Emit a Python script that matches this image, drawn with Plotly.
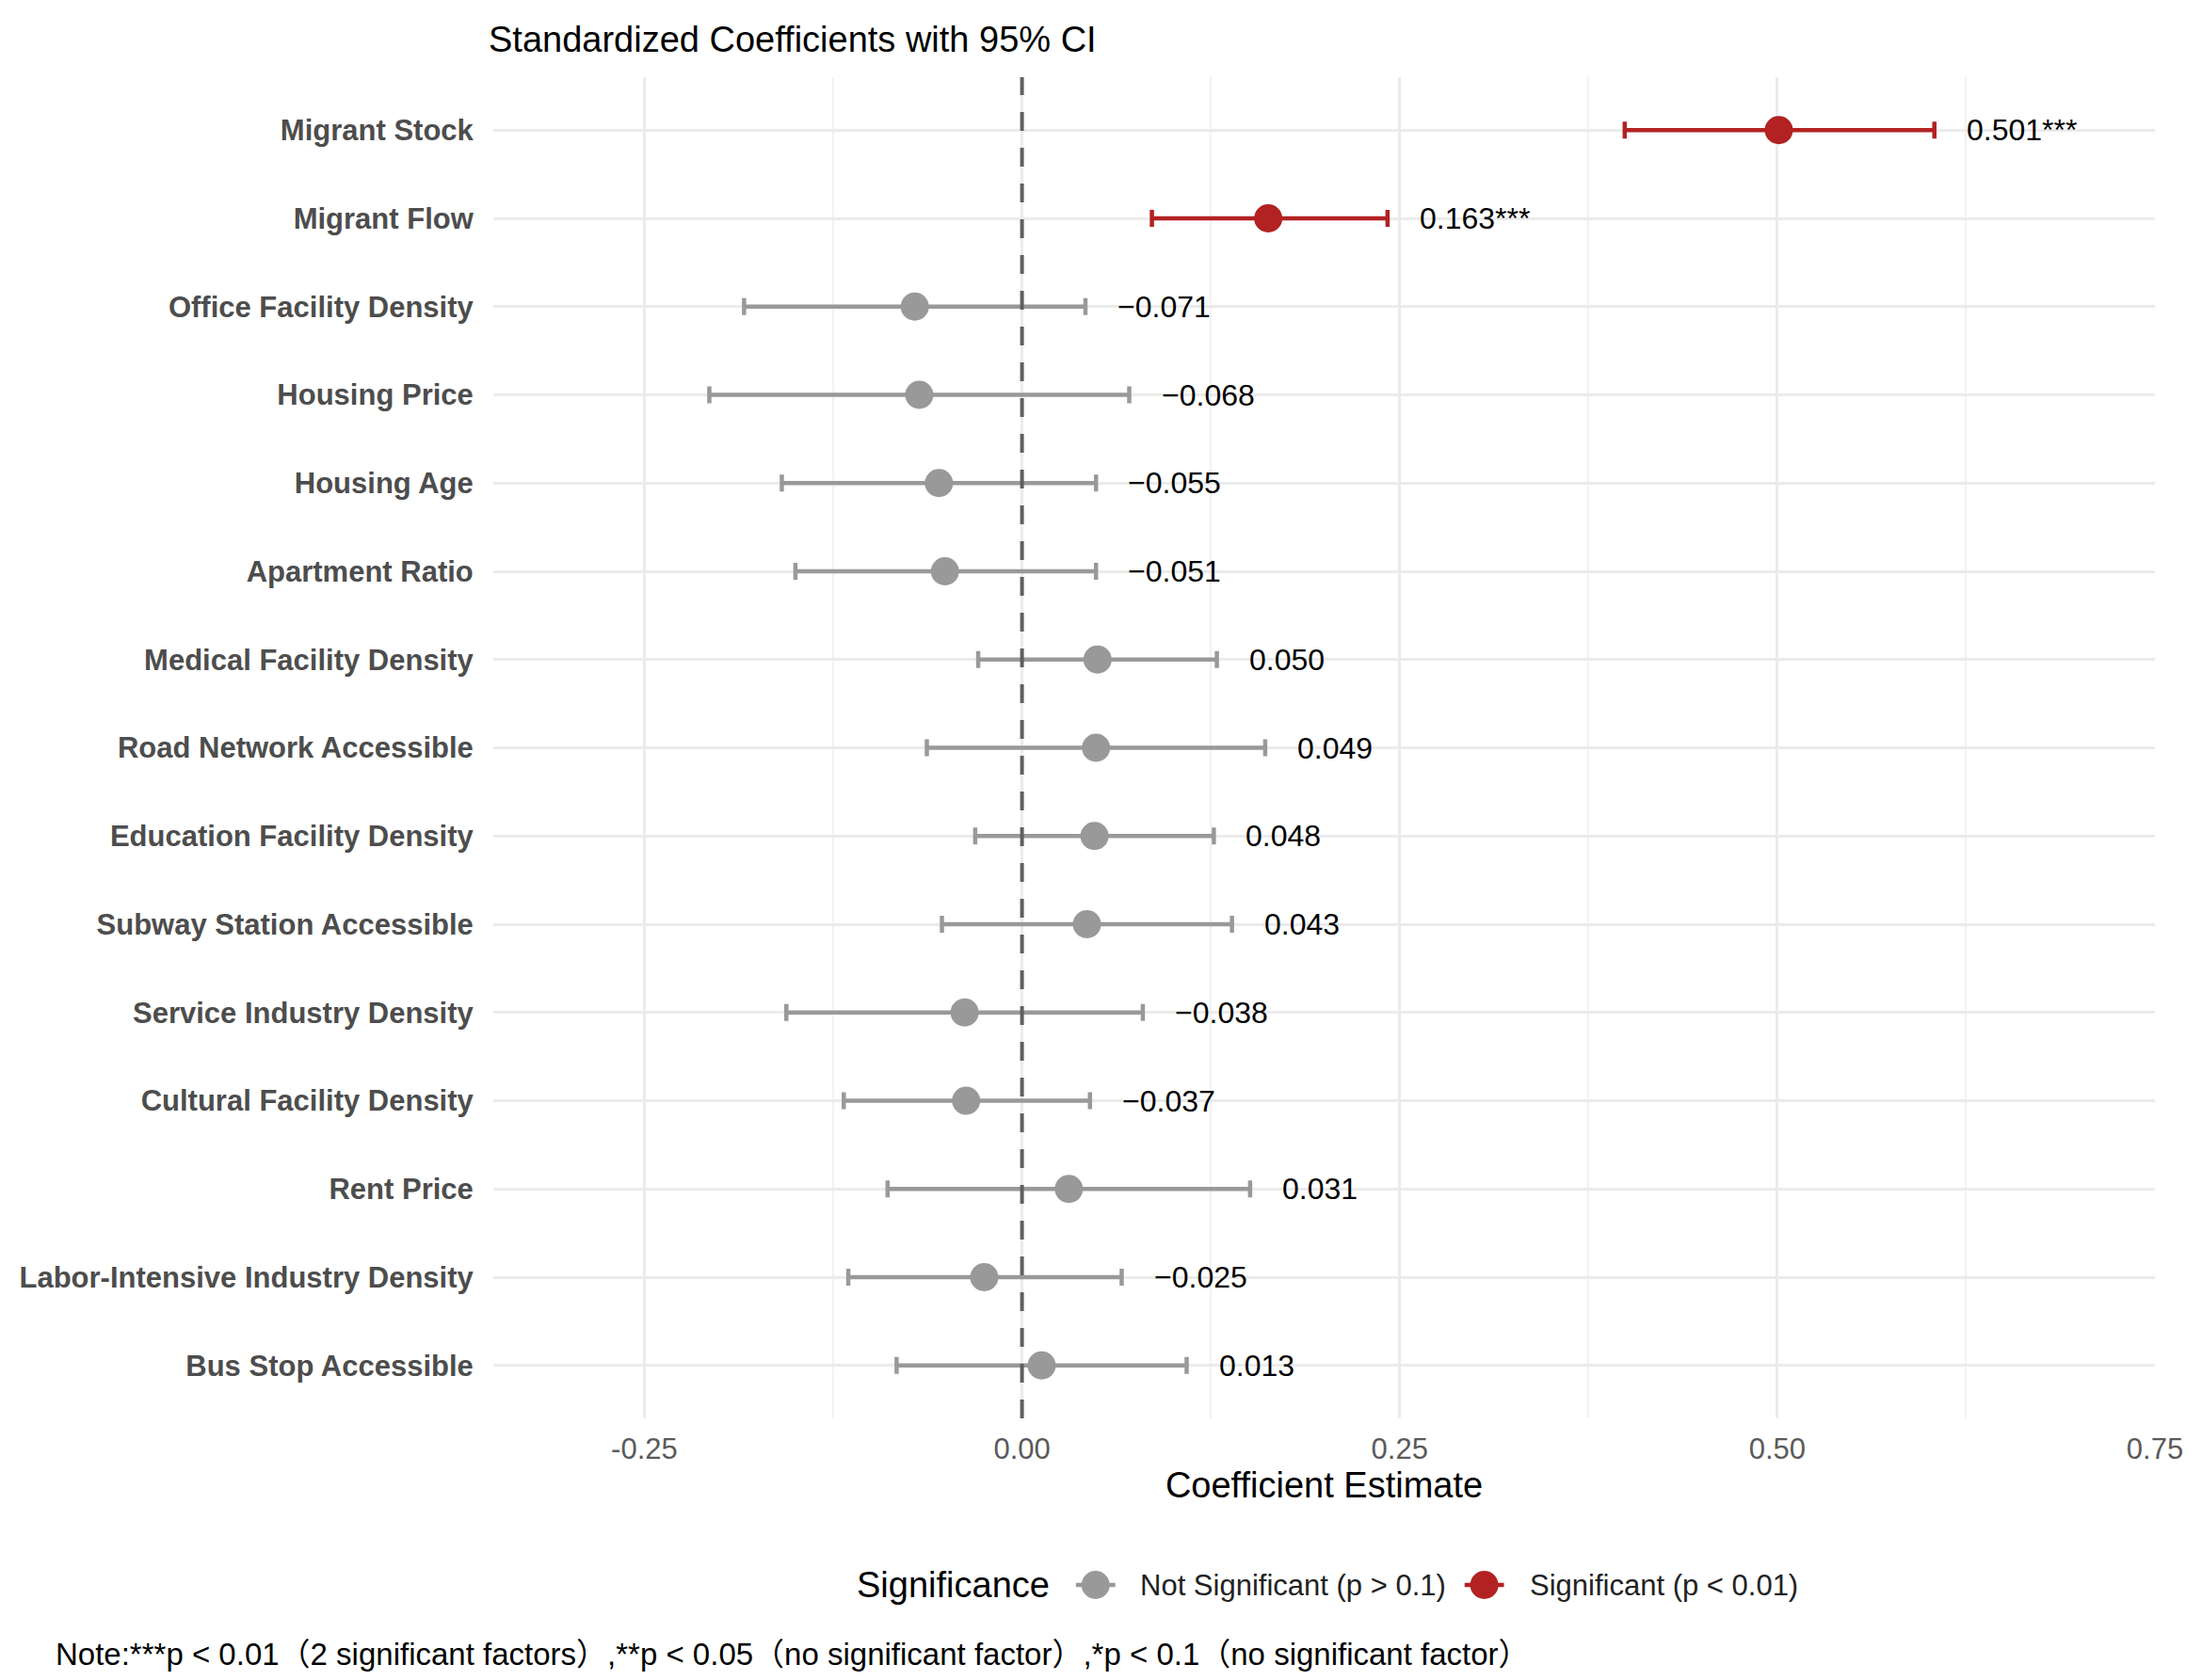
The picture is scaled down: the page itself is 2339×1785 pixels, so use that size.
import plotly.graph_objects as go

categories = ["Migrant Stock", "Migrant Flow", "Office Facility Density", "Housing Price",
              "Housing Age", "Apartment Ratio", "Medical Facility Density",
              "Road Network Accessible", "Education Facility Density",
              "Subway Station Accessible", "Service Industry Density",
              "Cultural Facility Density", "Rent Price",
              "Labor-Intensive Industry Density", "Bus Stop Accessible"]
estimate = [0.501, 0.163, -0.071, -0.068, -0.055, -0.051, 0.050, 0.049, 0.048, 0.043,
            -0.038, -0.037, 0.031, -0.025, 0.013]
ci_low = [0.399, 0.086, -0.184, -0.207, -0.159, -0.150, -0.029, -0.063, -0.031, -0.053,
          -0.156, -0.118, -0.089, -0.115, -0.083]
ci_high = [0.604, 0.242, 0.042, 0.071, 0.049, 0.049, 0.129, 0.161, 0.127, 0.139,
           0.080, 0.045, 0.151, 0.066, 0.109]
stars = ["***", "***", "", "", "", "", "", "", "", "", "", "", "", "", ""]
x_ticks = [-0.25, 0.0, 0.25, 0.50, 0.75]
x_tick_labels = ["-0.25", "0.00", "0.25", "0.50", "0.75"]
legend_names = ["Not Significant (p > 0.1)", "Significant (p < 0.01)"]

GREY = "#999999"
RED = "#B22222"
FONT = "Liberation Sans, Arial, Noto Sans CJK SC, sans-serif"

# page geometry (plotly page has an 8px body margin)
OFF = 8
W, H = 2339 - 2 * OFF, 1785 - 2 * OFF
PL, PR, PT, PB = 519, 2293, 82, 1507  # plot area in page pixels


def px(xp):
    return (xp - PL) / (PR - PL)


def py(yp):
    return (PB - yp) / (PB - PT)


fig = go.Figure()

groups = [(legend_names[0], GREY, False), (legend_names[1], RED, True)]
for name, color, is_sig in groups:
    idx = [i for i in range(len(categories)) if (stars[i] != "") == is_sig]
    fig.add_trace(go.Scatter(
        x=[estimate[i] for i in idx],
        y=[categories[i] for i in idx],
        mode="markers", name=name,
        marker=dict(size=30, color=color),
        error_x=dict(type="data", symmetric=False,
                     array=[ci_high[i] - estimate[i] for i in idx],
                     arrayminus=[estimate[i] - ci_low[i] for i in idx],
                     color=color, thickness=4.5, width=9),
        showlegend=False, hoverinfo="skip",
    ))


def fmt(v):
    s = f"{abs(v):.3f}"
    return ("\u2212" + s) if v < 0 else s


for i, c in enumerate(categories):
    fig.add_annotation(x=ci_high[i] + 0.02, y=c, xref="x", yref="y",
                       text=fmt(estimate[i]) + stars[i], showarrow=False,
                       xanchor="left", yanchor="middle",
                       font=dict(family=FONT, size=32, color="black"))

# zero reference line
fig.add_shape(type="line", x0=0, x1=0, xref="x", y0=0, y1=1, yref="paper",
              line=dict(color="#5F5F5F", width=4, dash="20px,18px"), layer="above")

# custom legend (keys drawn at ggplot-like size)
LY = py(1684)
fig.add_annotation(x=px(905), y=LY, xref="paper", yref="paper", xanchor="left",
                   yanchor="middle", showarrow=False, text="Significance",
                   font=dict(family=FONT, size=38, color="black"))
keys = [(1162, 1207, GREY, legend_names[0]), (1577, 1624, RED, legend_names[1])]
for cx, tx, color, label in keys:
    fig.add_shape(type="line", xref="paper", yref="paper", x0=px(cx - 21), x1=px(cx + 21),
                  y0=LY, y1=LY, line=dict(color=color, width=4.5))
    fig.add_shape(type="circle", xref="paper", yref="paper", xsizemode="pixel",
                  ysizemode="pixel", xanchor=px(cx), yanchor=LY,
                  x0=-15, x1=15, y0=-15, y1=15, fillcolor=color, line=dict(width=0))
    fig.add_annotation(x=px(tx), y=LY, xref="paper", yref="paper", xanchor="left",
                       yanchor="middle", showarrow=False, text=label,
                       font=dict(family=FONT, size=31, color="#222222"))

fig.add_annotation(
    x=px(50), y=py(1757), xref="paper", yref="paper", xanchor="left", yanchor="middle",
    showarrow=False,
    text="Note:***p < 0.01（2 significant factors）,**p < 0.05（no significant factor）,*p < 0.1（no significant factor）",
    font=dict(family=FONT, size=33, color="black"))

fig.update_layout(
    width=W, height=H,
    margin=dict(l=PL - OFF, r=OFF + W - PR, t=PT - OFF, b=OFF + H - PB, pad=0),
    paper_bgcolor="white", plot_bgcolor="white",
    font=dict(family=FONT, color="black"),
    showlegend=False,
    title=dict(text="Standardized Coefficients with 95% CI", x=(PL - OFF) / W, xref="container",
               xanchor="left", y=1 - (42 - OFF) / H, yref="container", yanchor="middle",
               font=dict(family=FONT, size=38, color="black")),
    xaxis=dict(range=[-0.35, 0.75], tickvals=x_ticks, ticktext=x_tick_labels,
               showgrid=True, gridcolor="#EBEBEB", gridwidth=2.5, zeroline=False,
               showline=False, ticks="outside", ticklen=5, tickcolor="rgba(0,0,0,0)",
               tickfont=dict(family=FONT, size=31, color="#5A5A5A"),
               minor=dict(dtick=0.125, tick0=0, showgrid=True, gridcolor="#F2F2F2", gridwidth=1.5),
               title=dict(text="Coefficient Estimate", standoff=8,
                          font=dict(family=FONT, size=38, color="black"))),
    yaxis=dict(type="category", categoryorder="array", categoryarray=categories,
               range=[len(categories) - 0.4, -0.6],
               showgrid=True, gridcolor="#EBEBEB", gridwidth=3, zeroline=False,
               showline=False, ticks="outside", ticklen=14, tickcolor="rgba(0,0,0,0)",
               tickfont=dict(family=FONT, size=31, color="#4D4D4D", weight="bold")),
)

fig.write_html("out.html")
